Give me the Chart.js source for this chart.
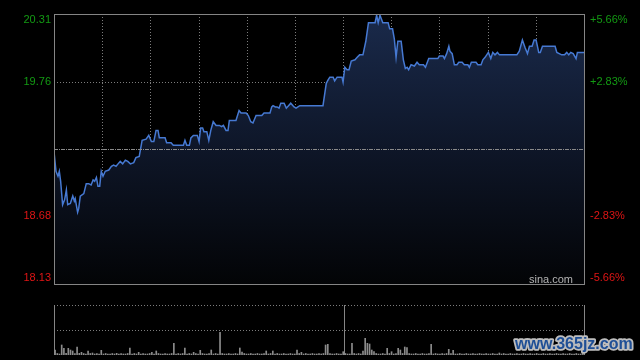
<!DOCTYPE html>
<html>
<head>
<meta charset="utf-8">
<script src="https://cdn.jsdelivr.net/npm/chart.js@4.4.1/dist/chart.umd.min.js"></script>
<style>
  html, body { margin: 0; padding: 0; background: #000; width: 640px; height: 360px; overflow: hidden; }
  canvas { position: absolute; left: 0; }
  #price { top: 0; }
  #volume { top: 290px; }
</style>
</head>
<body>
<canvas id="price" width="640" height="290"></canvas>
<canvas id="volume" width="640" height="70"></canvas>
<script>
// Intraday data, minutes since open (0..240) and price
const times = [0,0.9,1.8,2.4,3.0,3.9,4.8,5.6,6.2,7.4,
  8.5,9.2,9.6,10.7,11.2,11.9,13.5,14.6,15.7,16.8,
  17.7,18.4,19.2,19.9,20.7,21.4,22.2,23.2,24.8,26.0,
  27.0,28.1,29.0,30.0,31.1,32.3,33.4,34.6,36.1,37.1,
  38.6,39.9,41.7,42.9,44.1,45.2,46.2,47.1,47.7,48.9,
  50.3,51.0,53.0,54.0,58.6,59.3,60.1,61.3,62.0,63.1,
  64.9,65.7,66.4,67.3,67.9,69.2,70.1,71.0,72.1,73.4,
  74.9,75.9,76.7,77.9,78.8,79.4,82.4,83.8,84.7,87.0,
  88.0,89.1,90.1,91.5,94.1,95.1,97.8,98.6,99.2,100.2,
  101.0,101.9,102.7,104.2,105.2,106.2,107.2,108.7,109.6,111.3,
  121.8,123.3,124.2,124.9,126.4,127.1,128.2,130.4,130.9,131.7,
  132.7,133.6,134.6,136.3,137.3,138.4,139.9,141.2,142.4,145.4,
  146.1,146.8,147.6,148.9,151.3,152.0,153.3,154.1,154.9,155.7,
  157.2,158.2,159.1,159.9,160.6,161.7,163.2,164.4,165.4,167.3,
  168.2,169.7,173.8,174.5,176.2,176.8,177.8,178.8,179.3,180.3,
  181.3,182.5,183.3,184.8,185.8,187.4,188.1,189.0,191.1,191.9,
  193.4,194.2,195.2,196.7,197.8,198.7,199.7,200.8,201.7,209.6,
  210.7,212.1,213.3,214.4,215.3,216.5,217.4,218.3,218.9,219.5,
  220.2,221.2,226.9,227.7,229.9,231.2,232.2,233.1,234.0,235.1,
  236.4,237.0,240]

const prices = [19.20,19.04,19.00,19.04,18.96,18.77,18.81,18.89,18.77,18.78,
  18.84,18.80,18.82,18.71,18.74,18.84,18.86,18.94,18.94,18.93,
  18.97,18.96,18.99,18.92,18.92,19.04,19.00,19.04,19.05,19.08,
  19.09,19.08,19.10,19.12,19.10,19.13,19.12,19.10,19.11,19.15,
  19.16,19.29,19.30,19.33,19.28,19.28,19.37,19.37,19.31,19.31,
  19.31,19.27,19.27,19.25,19.25,19.29,19.25,19.25,19.31,19.33,
  19.33,19.28,19.39,19.39,19.36,19.36,19.29,19.37,19.44,19.41,
  19.41,19.40,19.41,19.37,19.37,19.45,19.45,19.53,19.51,19.51,
  19.49,19.44,19.43,19.49,19.49,19.51,19.51,19.56,19.57,19.56,
  19.56,19.55,19.59,19.59,19.55,19.57,19.59,19.56,19.55,19.57,
  19.57,19.75,19.78,19.80,19.80,19.77,19.80,19.80,19.76,19.88,
  19.86,19.86,19.93,19.94,19.96,19.98,19.98,20.09,20.24,20.24,
  20.30,20.24,20.30,20.24,20.24,20.19,20.19,20.11,19.96,20.09,
  20.09,19.94,19.87,19.88,19.86,19.90,19.89,19.92,19.90,19.90,
  19.88,19.95,19.95,19.97,19.97,19.95,19.99,20.05,20.01,19.99,
  19.90,19.90,19.92,19.92,19.90,19.90,19.88,19.92,19.92,19.90,
  19.90,19.94,19.96,20.00,19.95,20.00,19.98,20.00,19.98,19.98,
  20.01,20.10,20.04,19.99,20.05,20.05,20.10,20.10,20.05,20.00,
  20.00,20.05,20.05,20.00,19.98,19.98,20.00,19.98,20.00,19.99,
  19.95,20.00,20.00]

// Volume per minute
const volumes = [1000,300,200,2000,1340,340,1340,1000,800,300,
  1600,340,540,300,200,800,300,400,200,300,
  200,940,200,300,200,200,300,200,340,200,
  300,200,200,300,1400,200,300,200,540,200,
  300,200,200,300,540,200,800,300,200,200,
  300,200,200,300,2340,200,300,200,300,1400,
  200,300,200,540,300,200,940,300,200,200,
  300,1000,200,300,200,4540,300,200,200,300,
  200,200,300,200,1400,600,300,200,200,300,
  200,200,300,200,200,300,800,200,300,800,
  200,300,200,200,300,200,200,300,200,200,
  1000,300,540,200,300,200,200,300,200,200,
  300,200,300,2000,2140,300,200,200,300,200,
  200,660,300,200,200,2340,300,200,300,200,
  800,3340,2340,2200,1000,660,300,200,200,300,
  200,1340,300,660,200,300,1340,1000,300,1600,
  1460,300,200,200,300,200,200,300,200,200,
  300,2140,200,300,200,200,300,200,300,1140,
  300,940,200,200,300,200,200,300,200,200,
  300,200,200,300,200,200,300,200,200,300,
  200,200,400,200,300,200,200,300,200,200,
  300,200,200,300,200,200,300,200,200,300,
  200,200,300,200,200,300,200,200,300,200,
  200,300,200,200,300,200,200,300,200,200,
  300]
const volumeMinutes = volumes.map((v, i) => i)

// Axis ticks: price and change vs previous close (19.22)
const priceTicks = [18.13, 18.68, 19.22, 19.76, 20.31]
const priceLabels = ["18.13", "18.68", "", "19.76", "20.31"]
const pctLabels = ["-5.66%", "-2.83%", "", "+2.83%", "+5.66%"]
const gridColumns = 11

const FONT = '11px "Liberation Sans", Arial, sans-serif'
const GREEN = "#139a13"
const RED = "#e01515"

function crisp(v) { return Math.round(v) + 0.5 }

function line(ctx, x1, y1, x2, y2, color, dash) {
  ctx.save()
  ctx.strokeStyle = color
  ctx.lineWidth = 1
  ctx.setLineDash(dash || [])
  ctx.beginPath()
  ctx.moveTo(x1, y1)
  ctx.lineTo(x2, y2)
  ctx.stroke()
  ctx.restore()
}

// grid, border and labels of the price panel
const priceFrame = {
  id: "priceFrame",
  beforeDatasetsDraw(chart) {
    const { ctx, chartArea: a, scales } = chart
    for (let k = 1; k < gridColumns; k++) {
      const x = crisp(scales.x.getPixelForValue(k * 240 / gridColumns))
      line(ctx, x, a.top, x, a.bottom, "#7c7c7c", [1, 2])
    }
    ;[1, 3].forEach((i) => {
      const y = crisp(scales.y.getPixelForValue(priceTicks[i]))
      line(ctx, a.left, y, a.right, y, "#7c7c7c", [1, 2])
    })
  },
  afterDatasetsDraw(chart) {
    const { ctx, chartArea: a, scales } = chart
    const yMid = crisp(scales.y.getPixelForValue(priceTicks[2]))
    line(ctx, a.left, yMid, a.right, yMid, "#8a8a8a", [4, 1, 1, 1])

    ctx.save()
    ctx.strokeStyle = "#858585"
    ctx.lineWidth = 1
    ctx.strokeRect(crisp(a.left), crisp(a.top), Math.round(a.right - a.left), Math.round(a.bottom - a.top))

    ctx.font = FONT
    ctx.textBaseline = "middle"
    priceTicks.forEach((v, i) => {
      if (!priceLabels[i]) return
      let y = scales.y.getPixelForValue(v)
      if (i === priceTicks.length - 1) y += 6
      if (i === 0) y -= 6
      ctx.fillStyle = v > priceTicks[2] ? GREEN : RED
      ctx.textAlign = "right"
      ctx.fillText(priceLabels[i], a.left - 3, y)
      ctx.textAlign = "left"
      ctx.fillText(pctLabels[i], a.right + 6, y)
    })

    ctx.fillStyle = "#b4b4b4"
    ctx.textAlign = "right"
    ctx.textBaseline = "alphabetic"
    ctx.fillText("sina.com", a.right - 11, a.bottom - 1)
    ctx.restore()
  },
}

// grid, border and watermark of the volume panel
const volumeFrame = {
  id: "volumeFrame",
  beforeDatasetsDraw(chart) {
    const { ctx, chartArea: a, scales } = chart
    const top = crisp(scales.y.getPixelForValue(scales.y.max))
    const mid = crisp(scales.y.getPixelForValue(scales.y.max / 2))
    line(ctx, a.left, top, a.right, top, "#7c7c7c", [1, 2])
    line(ctx, a.left, mid, a.right, mid, "#7c7c7c", [1, 2])
    line(ctx, crisp(a.left), a.top, crisp(a.left), a.bottom, "#858585")
    line(ctx, crisp(a.right), a.top, crisp(a.right), a.bottom, "#858585")
    const xs = crisp(a.left + (a.right - a.left) * 6 / gridColumns) + 1
    line(ctx, xs, a.top, xs, a.bottom, "#858585")
  },
  afterDraw(chart) {
    const { ctx } = chart
    ctx.save()
    ctx.font = 'bold 16px "Liberation Sans", Arial, sans-serif'
    ctx.textBaseline = "middle"
    ctx.textAlign = "left"
    ctx.lineJoin = "round"
    ctx.lineWidth = 3.5
    ctx.strokeStyle = "#bdbdbd"
    ctx.strokeText("www.365jz.com", 515, 55)
    ctx.fillStyle = "#1f4f96"
    ctx.fillText("www.365jz.com", 515, 55)
    ctx.restore()
  },
}

new Chart(document.getElementById("price"), {
  type: "line",
  data: {
    datasets: [
      {
        data: times.map((t, i) => ({ x: t, y: prices[i] })),
        borderColor: "#4679d2",
        borderWidth: 1.5,
        pointRadius: 0,
        tension: 0,
        fill: "start",
        backgroundColor: (c) => {
          const a = c.chart.chartArea
          if (!a) return "rgba(0,0,0,0)"
          const g = c.chart.ctx.createLinearGradient(0, a.top, 0, a.bottom)
          g.addColorStop(0, "#1a2a4b")
          g.addColorStop(0.5, "#0e1628")
          g.addColorStop(1, "#030406")
          return g
        },
      },
    ],
  },
  options: {
    responsive: false,
    animation: false,
    layout: { padding: { left: 54, top: 14, right: 56, bottom: 6 } },
    scales: {
      x: { type: "linear", min: 0, max: 240, display: false },
      y: { min: priceTicks[0], max: priceTicks[priceTicks.length - 1], display: false },
    },
    plugins: { legend: { display: false }, tooltip: { enabled: false } },
  },
  plugins: [priceFrame],
})

new Chart(document.getElementById("volume"), {
  type: "bar",
  data: {
    labels: volumeMinutes,
    datasets: [
      {
        data: volumes,
        backgroundColor: "#8c8c8c",
        barThickness: 1,
      },
    ],
  },
  options: {
    responsive: false,
    animation: false,
    layout: { padding: { left: 54, top: 15, right: 56, bottom: 5 } },
    scales: {
      x: { display: false },
      y: { min: 0, max: 10000, display: false },
    },
    plugins: { legend: { display: false }, tooltip: { enabled: false } },
  },
  plugins: [volumeFrame],
})
</script>
</body>
</html>
